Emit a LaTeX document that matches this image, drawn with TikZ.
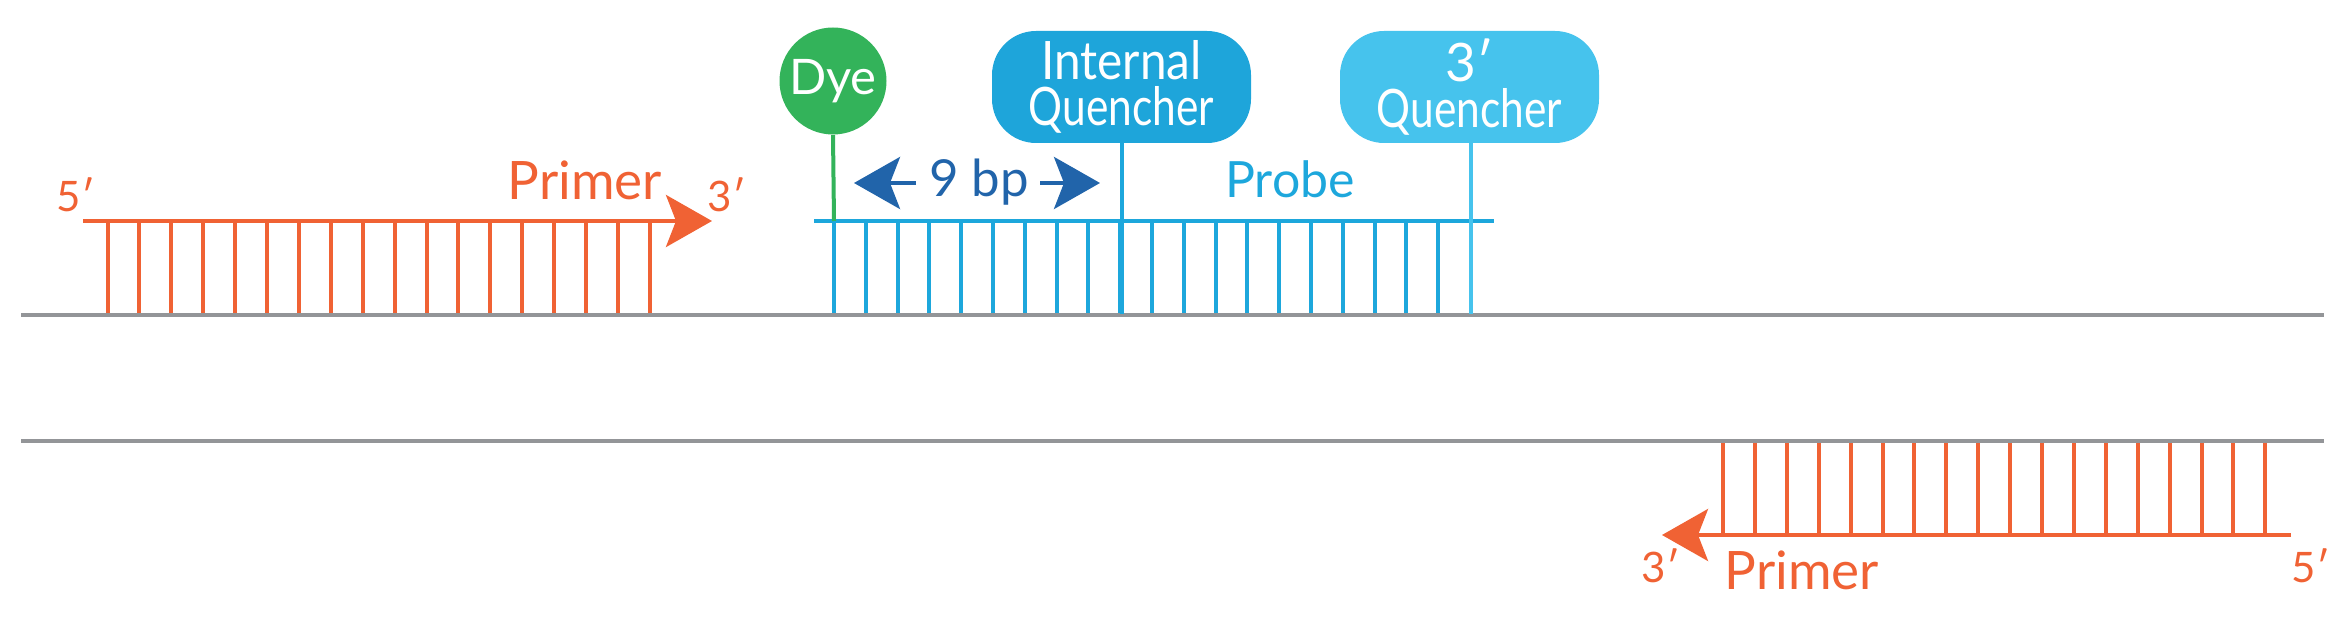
\documentclass[tikz,border=0pt]{standalone}
\usepackage{fontspec}
\setmainfont{Lato}
\usetikzlibrary{arrows.meta}
\definecolor{orng}{RGB}{240,98,52}
\definecolor{strandgray}{RGB}{147,149,152}
\definecolor{dyegreen}{RGB}{51,179,90}
\definecolor{probeblue}{RGB}{29,167,220}
\definecolor{iqblue}{RGB}{30,165,218}
\definecolor{tqblue}{RGB}{70,195,237}
\definecolor{darkblue}{RGB}{33,100,170}
\tikzset{
  strand/.style={draw=strandgray, line width=2.2pt},
  rung/.style={line width=2pt},
  lbl/.style={inner sep=0pt, anchor=base},
  endlbl/.style={lbl, text=orng, font=\fontsize{21}{21}\selectfont},
  bigtxt/.style={lbl, font=\fontsize{26.5}{26.5}\selectfont},
  headarrow/.style={-{Stealth[length=23pt,width=26pt,inset=5pt]}},
  qbox/.style={rectangle, rounded corners=22pt, minimum width=129.5pt, minimum height=56pt,
    inner sep=0pt, text=white, align=center, font=\fontsize{26.5}{23}\selectfont},
}
\begin{document}
\begin{tikzpicture}[x=0.5pt,y=-0.5pt]
\useasboundingbox (0,0) rectangle (2346,624);

% ---- top primer ticks
\foreach \i in {0,...,17}
  \draw[rung, orng] (107.5+31.9*\i,221) -- (107.5+31.9*\i,314);
% ---- probe ticks
\foreach \i in {0,...,19}
  \draw[rung, probeblue] (834+31.8*\i,221) -- (834+31.8*\i,314);
% ---- bottom primer ticks
\foreach \i in {0,...,17}
  \draw[rung, orng] (1723+31.9*\i,441) -- (1723+31.9*\i,535);

% ---- template strands
\coordinate (s1a) at (21,315);  \coordinate (s1b) at (2324,315);
\coordinate (s2a) at (21,441);  \coordinate (s2b) at (2324,441);
\draw[strand] (s1a) -- (s1b);
\draw[strand] (s2a) -- (s2b);

% ---- top primer
\coordinate (p1s) at (83,221); \coordinate (p1e) at (712,221);
\draw[orng, line width=2pt, headarrow] (p1s) -- (p1e);
\node[endlbl] (p1five) at (76,212) {5′};
\node[endlbl] (p1three) at (727,212) {3′};
\node[bigtxt, text=orng] (p1name) at (585,200) {Primer};

% ---- bottom primer
\coordinate (p2s) at (2291,535); \coordinate (p2e) at (1662,535);
\draw[orng, line width=2pt, headarrow] (p2s) -- (p2e);
\node[endlbl] (p2three) at (1661,583) {3′};
\node[endlbl] (p2five) at (2311,583) {5′};
\node[bigtxt, text=orng] (p2name) at (1802,590) {Primer};

% ---- probe
\coordinate (pra) at (814,221); \coordinate (prb) at (1494,221);
\draw[probeblue, line width=2pt] (pra) -- (prb);
\node[bigtxt, text=probeblue, font=\fontsize{25}{25}\selectfont] (probename) at (1290,198) {Probe};

% dye
\node[circle, fill=dyegreen, minimum size=53.5pt, inner sep=0pt, text=white,
  font=\fontsize{24.5}{24.5}\selectfont] (dye) at (833,81) {Dye};
\coordinate (dyefoot) at (834,221);
\draw[dyegreen, line width=2pt] (dye.south) -- (dyefoot);

% internal quencher
\node[qbox, fill=iqblue] (iq) at (1121.5,87) {\scalebox{0.9}[1]{Internal}\\\scalebox{0.8}[1]{Quencher}};
\coordinate (iqfoot) at (1122,314);
\draw[probeblue, line width=2pt] (iq.south -| iqfoot) -- (iqfoot);

% 3' quencher
\node[qbox, fill=tqblue] (tq) at (1469.5,87) {3′\\\scalebox{0.8}[1]{Quencher}};
\coordinate (tqfoot) at (1470.5,314);
\draw[tqblue, line width=2pt] (tq.south -| tqfoot) -- (tqfoot);

% 9 bp spacing
\node[lbl, text=darkblue, font=\fontsize{25.5}{25.5}\selectfont] (bp) at (979,197) {9 bp};
\coordinate (la) at (916,183); \coordinate (lb) at (854,183);
\coordinate (ra) at (1040,183); \coordinate (rb) at (1100,183);
\draw[darkblue, line width=2pt, headarrow] (la) -- (lb);
\draw[darkblue, line width=2pt, headarrow] (ra) -- (rb);
\end{tikzpicture}
\end{document}
